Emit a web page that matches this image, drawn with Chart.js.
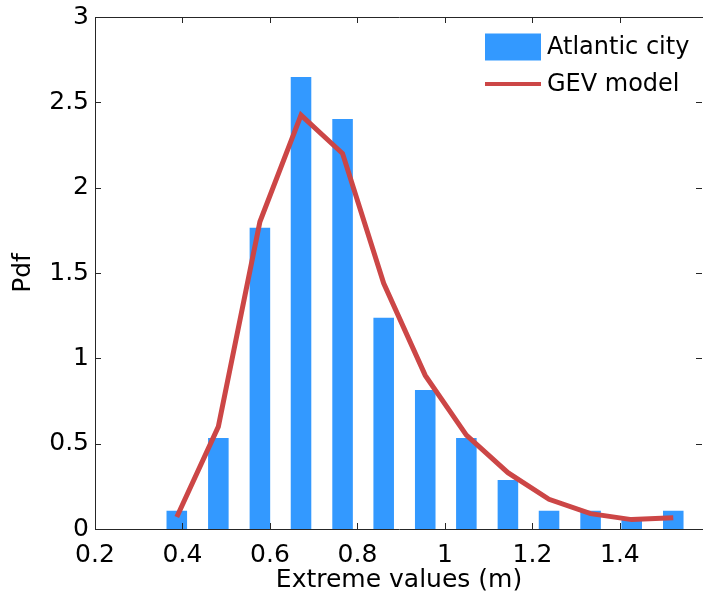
<!DOCTYPE html>
<html>
<head>
<meta charset="utf-8">
<title>Atlantic city extremes</title>
<script src="https://cdn.jsdelivr.net/npm/chart.js@4/dist/chart.umd.min.js"></script>
<style>
    html, body { margin: 0; padding: 0; background: #fff; overflow: hidden; }
</style>
</head>
<body>
<canvas id="pdf-chart" width="703" height="596"></canvas>
<script>
// Histogram bins (centres, m) and normalised heights
const binCenters = [0.387, 0.482, 0.577, 0.671, 0.766, 0.860, 0.955, 1.049, 1.144, 1.238, 1.333, 1.427, 1.522];
const observedPdf = [0.107, 0.533, 1.765, 2.648, 2.402, 1.238, 0.814, 0.533, 0.287, 0.107, 0.107, 0.07, 0.107];
// Fitted GEV density evaluated at the same centres
const gevPdf = [0.07, 0.60, 1.80, 2.425, 2.20, 1.44, 0.90, 0.55, 0.33, 0.174, 0.09, 0.055, 0.066];

const xTicks = [0.2, 0.4, 0.6, 0.8, 1, 1.2, 1.4];
const yTicks = [0, 0.5, 1, 1.5, 2, 2.5, 3];
// x range: the axes box runs right up to the edge of the figure
const X_MIN = 0.2;
const X_MAX = 1.59;

const BLUE = '#3399ff';
const RED = '#cc4646';
const AXIS = '#262626';
const FONT = '"DejaVu Sans", Arial, Helvetica, sans-serif';

const toPoints = (xs, ys) => xs.map((x, i) => ({ x: x, y: ys[i] }));

// Box around the axes with inward ticks on all four sides
const boxPlugin = {
    id: 'boxAxes',
    afterDatasetsDraw(chart) {
        const { ctx, chartArea: a, scales } = chart;
        const len = 6;
        ctx.save();
        ctx.strokeStyle = AXIS;
        ctx.lineWidth = 1;
        ctx.beginPath();
        ctx.rect(a.left + 0.5, a.top + 0.5, a.right - a.left, a.bottom - a.top);
        scales.x.ticks.forEach(t => {
            const px = Math.round(scales.x.getPixelForValue(t.value)) + 0.5;
            ctx.moveTo(px, a.bottom); ctx.lineTo(px, a.bottom - len);
            ctx.moveTo(px, a.top); ctx.lineTo(px, a.top + len);
        });
        scales.y.ticks.forEach(t => {
            const py = Math.round(scales.y.getPixelForValue(t.value)) + 0.5;
            ctx.moveTo(a.left, py); ctx.lineTo(a.left + len, py);
            ctx.moveTo(a.right - 1, py); ctx.lineTo(a.right - 1 - len, py);
        });
        ctx.stroke();
        ctx.restore();
    }
};

// Legend in the upper right corner of the plot, bars first
const legendPlugin = {
    id: 'cornerLegend',
    afterDraw(chart, args, opts) {
        const { ctx } = chart;
        const items = chart.data.datasets.slice().sort((a, b) => b.order - a.order);
        ctx.save();
        ctx.font = opts.fontSize + 'px ' + FONT;
        ctx.textBaseline = 'middle';
        items.forEach((d, i) => {
            const cy = opts.top + i * opts.rowHeight;
            if (d.type === 'line') {
                ctx.strokeStyle = d.borderColor;
                ctx.lineWidth = 4;
                ctx.beginPath();
                ctx.moveTo(opts.left, cy);
                ctx.lineTo(opts.left + opts.swatch, cy);
                ctx.stroke();
            } else {
                ctx.fillStyle = d.backgroundColor;
                ctx.fillRect(opts.left, cy - 13.5, opts.swatch, 27);
            }
            ctx.fillStyle = '#000';
            ctx.fillText(d.label, opts.left + opts.swatch + 6, cy + 1);
        });
        ctx.restore();
    }
};

new Chart(document.getElementById('pdf-chart'), {
    type: 'bar',
    data: {
        datasets: [
            {
                type: 'line',
                label: 'GEV model',
                data: toPoints(binCenters, gevPdf),
                borderColor: RED,
                borderWidth: 5,
                pointRadius: 0,
                pointHoverRadius: 0,
                tension: 0,
                fill: false,
                order: 0
            },
            {
                type: 'bar',
                label: 'Atlantic city',
                data: toPoints(binCenters, observedPdf),
                backgroundColor: BLUE,
                borderWidth: 0,
                barPercentage: 1,
                categoryPercentage: 0.5,
                order: 1
            }
        ]
    },
    options: {
        responsive: false,
        animation: false,
        layout: { autoPadding: false, padding: { top: 17, right: 0, left: 0, bottom: 0 } },
        plugins: {
            legend: { display: false },
            tooltip: { enabled: false },
            cornerLegend: { left: 485, top: 47, rowHeight: 37, swatch: 56, fontSize: 24 }
        },
        scales: {
            x: {
                type: 'linear',
                min: X_MIN,
                max: X_MAX,
                offset: false,
                afterBuildTicks: s => { s.ticks = xTicks.map(v => ({ value: v })); },
                afterFit: s => {
                    s.height = 67;
                    s.paddingLeft = 0;
                    s.paddingRight = 0;
                },
                grid: { display: false, drawTicks: false, offset: false },
                border: { display: false },
                ticks: {
                    padding: 11,
                    color: '#000',
                    font: { family: FONT, size: 25 },
                    maxRotation: 0,
                    callback: v => String(v)
                },
                title: {
                    display: true,
                    text: 'Extreme values (m)',
                    color: '#000',
                    font: { family: FONT, size: 25 },
                    padding: { top: 0, bottom: 1 }
                }
            },
            y: {
                min: 0,
                max: 3,
                afterBuildTicks: s => { s.ticks = yTicks.map(v => ({ value: v })); },
                afterFit: s => {
                    s.width = 95;
                    s.paddingTop = 0;
                    s.paddingBottom = 0;
                },
                grid: { display: false, drawTicks: false },
                border: { display: false },
                ticks: {
                    padding: 6,
                    color: '#000',
                    font: { family: FONT, size: 25 },
                    callback: v => String(v)
                },
                title: {
                    display: true,
                    text: 'Pdf',
                    color: '#000',
                    font: { family: FONT, size: 25 },
                    padding: { top: 8, bottom: 0 }
                }
            }
        }
    },
    plugins: [boxPlugin, legendPlugin]
});
</script>
</body>
</html>
